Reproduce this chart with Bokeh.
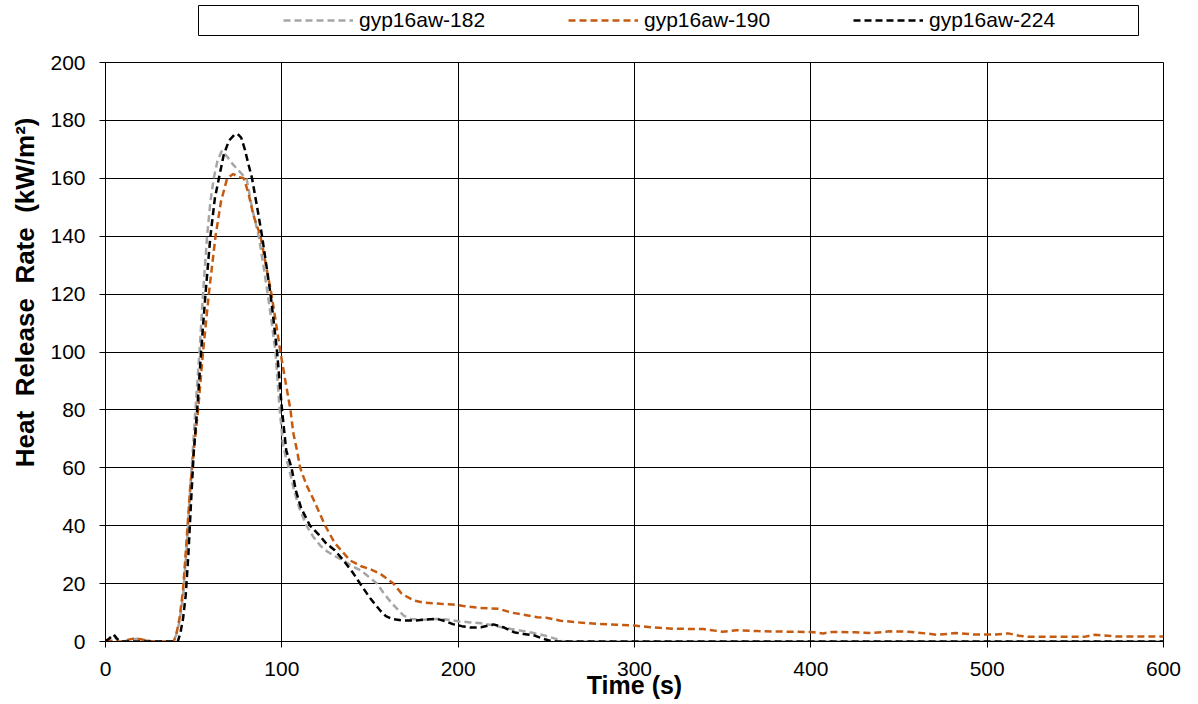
from bokeh.plotting import figure
from bokeh.layouts import column
from bokeh.models import (Range1d, Legend, LegendItem, Title, FixedTicker,
                          ColumnDataSource, BoxAnnotation)
from bokeh.embed import file_html
from bokeh.resources import INLINE

# ---------------- data ----------------
series_names = ["gyp16aw-182", "gyp16aw-190", "gyp16aw-224"]

t_182 = [0, 2, 4.5, 7, 10, 14, 18, 22, 26, 38, 40, 42, 44, 46, 48, 49.5, 51, 53.3,
         55.3, 57.6, 59.5, 61.4, 63.5, 66, 69, 72, 75, 78, 80, 83, 86.9, 89.5, 92,
         94.3, 96.4, 98.8, 100.7, 102.5, 104, 107, 110, 114, 118, 122, 126, 130,
         135, 140, 145, 150, 154, 158, 162, 165, 169, 173, 180, 188, 195, 200, 207,
         213, 218, 224, 230, 235, 242, 249, 255, 259, 262, 300, 400, 500, 600]
hrr_182 = [0, 0.8, 2.3, 0.3, 0, 0.5, 1.0, 0.5, 0, 0, 2, 7, 16, 32, 52, 66, 80, 100,
           120, 140, 152, 160, 166, 169.5, 167.5, 165, 163, 161, 160, 150, 140, 130,
           120, 110, 100, 80, 68, 63, 60, 52, 46, 40, 36, 33, 31, 29.5, 28, 26, 24.5,
           22, 20, 16.5, 13.5, 11.5, 9, 7.8, 7.5, 7.8, 7.5, 7, 6.6, 6.3, 5.8, 5, 4.3,
           3.8, 3, 2.1, 1, 0.2, 0, 0, 0, 0, 0]

t_190 = [0, 3, 6, 10, 13, 16, 20, 24, 28, 38.6, 40, 42, 44, 46, 48, 50.1, 52.5, 55.3,
         58.6, 62.4, 65.5, 69, 72.4, 75, 78.4, 81, 84, 87.9, 91, 94.1, 96.7, 99.2,
         102, 104.9, 106.5, 108.6, 110.4, 114, 118, 124.6, 130, 138.7, 145, 150,
         155.8, 160, 163.3, 168, 174.7, 180, 190, 197, 203, 212, 223, 230, 236.5,
         245, 250, 258, 266, 279, 290, 300, 309, 323, 339, 350, 358, 370, 385, 400,
         407, 412, 425, 434, 445, 455, 465, 472, 482, 493, 505, 512, 518, 523, 540,
         555, 561, 574, 600]
hrr_190 = [0.5, 0.3, 0, 0, 0.6, 1, 0.8, 0.2, 0, 0, 2, 8, 18, 35, 53, 66, 80, 100,
           120, 140, 152, 160, 161.5, 160.5, 160, 155, 147, 140, 130, 120, 110, 100,
           90, 80, 72, 66, 60, 54, 49, 40, 34, 28, 26, 25, 23.4, 21.5, 20, 16.5, 14.2,
           13.5, 13, 12.8, 12.3, 11.6, 11.3, 10, 9.3, 8.4, 8.2, 7.2, 6.7, 6.1, 5.8,
           5.5, 4.9, 4.4, 4.3, 3.4, 3.9, 3.6, 3.4, 3.3, 2.8, 3.3, 3.2, 2.9, 3.5, 3.4,
           2.8, 2.3, 2.9, 2.4, 2.4, 2.8, 2.0, 1.6, 1.6, 1.6, 2.3, 1.7, 1.7]

t_224 = [0, 2, 4.7, 6.5, 8.5, 41, 42.5, 44, 45.5, 47, 48.5, 50.1, 52, 54.2, 56.7,
         59.5, 62, 64.3, 67, 70, 73, 75, 77, 79, 81, 83.1, 86, 88.8, 91.2, 93.6,
         95.5, 97.3, 100.1, 102.5, 105.5, 108, 111, 116, 120.8, 125, 130, 135, 140,
         144.4, 150, 155.8, 159, 162.4, 168, 174.7, 180, 188, 193, 197, 202, 207,
         213, 220, 225.8, 231.6, 237, 243, 248, 252.6, 256, 300, 400, 500, 600]
hrr_224 = [0, 1, 2.4, 1, 0, 0, 3, 8, 16, 30, 48, 66, 80, 100, 120, 140, 153, 160,
           168, 173, 175, 175.3, 174, 170, 165, 160, 150, 140, 130, 120, 110, 100, 80,
           66, 60, 52, 46, 40, 37, 34, 31.5, 28, 24, 20, 15, 10.7, 8.8, 7.8, 7.3, 7.2,
           7.5, 7.8, 7, 6, 5.3, 4.8, 4.9, 5.9, 4.9, 3.2, 2.6, 2.1, 1, 0.2, 0, 0, 0, 0, 0]

x_ticks = [0, 100, 200, 300, 400, 500, 600]
y_ticks = [0, 20, 40, 60, 80, 100, 120, 140, 160, 180, 200]

x_title = "Time (s)"
y_title = "Heat\u00a0 Release\u00a0 Rate\u00a0 (kW/m\u00b2)"

colors = ["#A6A6A6", "#C55A11", "#000000"]
FONT = "Liberation Sans"
DASH = "7 4"
LW = 2.5

series_t = [t_182, t_190, t_224]
series_v = [hrr_182, hrr_190, hrr_224]

# ---------------- legend strip ----------------
leg = figure(width=1198, height=40, output_backend="svg", toolbar_location=None,
             x_axis_type=None, y_axis_type=None,
             x_range=Range1d(0, 1), y_range=Range1d(0, 1),
             min_border_left=105, min_border_right=35, min_border_top=0,
             min_border_bottom=0)
leg.outline_line_color = None
leg.background_fill_color = "white"
leg.border_fill_color = "white"
leg.xgrid.visible = False
leg.ygrid.visible = False

# hidden copies of the series act as legend entries
proxies = []
for t, v, c in zip(series_t, series_v, colors):
    src = ColumnDataSource(dict(t=t, v=v))
    proxies.append(leg.line("t", "v", source=src, line_color=c, line_width=LW,
                            line_dash=DASH, visible=False))

box = BoxAnnotation(left=93, right=1033, top=35, bottom=5,
                    left_units="screen", right_units="screen",
                    top_units="screen", bottom_units="screen",
                    fill_alpha=0, fill_color=None, line_color="black",
                    line_width=1, line_alpha=1)
leg.add_layout(box)

legend = Legend(items=[LegendItem(label=n, renderers=[r])
                       for n, r in zip(series_names, proxies)],
                orientation="horizontal", location=(178, 8),
                glyph_width=70, glyph_height=20, label_standoff=6, spacing=81,
                label_width=128, label_height=20, padding=0, margin=0,
                label_text_font=FONT, label_text_font_size="21px",
                label_text_color="black", inactive_fill_alpha=0,
                border_line_alpha=0, background_fill_alpha=0)
leg.add_layout(legend)

# ---------------- main chart ----------------
p = figure(width=1198, height=664, output_backend="svg", toolbar_location=None,
           x_range=Range1d(0, 600), y_range=Range1d(0, 200),
           min_border_left=105, min_border_right=35, min_border_top=22,
           min_border_bottom=63)
p.background_fill_color = "white"
p.border_fill_color = "white"
p.outline_line_color = "black"
p.outline_line_width = 1

for ax, ticks in ((p.xaxis[0], x_ticks), (p.yaxis[0], y_ticks)):
    ax.ticker = FixedTicker(ticks=ticks)
    ax.axis_line_color = "black"
    ax.major_tick_line_color = "black"
    ax.major_tick_out = 6
    ax.major_tick_in = 0
    ax.minor_tick_line_color = None
    ax.major_label_text_font = FONT
    ax.major_label_text_font_size = "21px"
    ax.major_label_text_color = "black"
p.xaxis.major_label_standoff = 14
p.yaxis.major_label_standoff = 14

p.xaxis.axis_label = x_title
p.xaxis.axis_label_text_font = FONT
p.xaxis.axis_label_text_font_size = "25px"
p.xaxis.axis_label_text_font_style = "bold"
p.xaxis.axis_label_text_color = "black"
p.xaxis.axis_label_standoff = -8

p.xgrid.grid_line_color = "black"
p.ygrid.grid_line_color = "black"
p.xgrid.grid_line_alpha = 1
p.ygrid.grid_line_alpha = 1
p.xgrid.ticker = FixedTicker(ticks=x_ticks)
p.ygrid.ticker = FixedTicker(ticks=y_ticks)

for t, v, c in zip(series_t, series_v, colors):
    src = ColumnDataSource(dict(t=t, v=v))
    p.line("t", "v", source=src, line_color=c, line_width=LW, line_dash=DASH)

ytitle = Title(text=y_title, align="right", offset=55, vertical_align="middle",
               standoff=13, text_font=FONT, text_font_size="26px",
               text_font_style="bold", text_color="black")
p.add_layout(ytitle, "left")

layout = column(leg, p, spacing=0)
open("out.html", "w").write(file_html(layout, INLINE))
